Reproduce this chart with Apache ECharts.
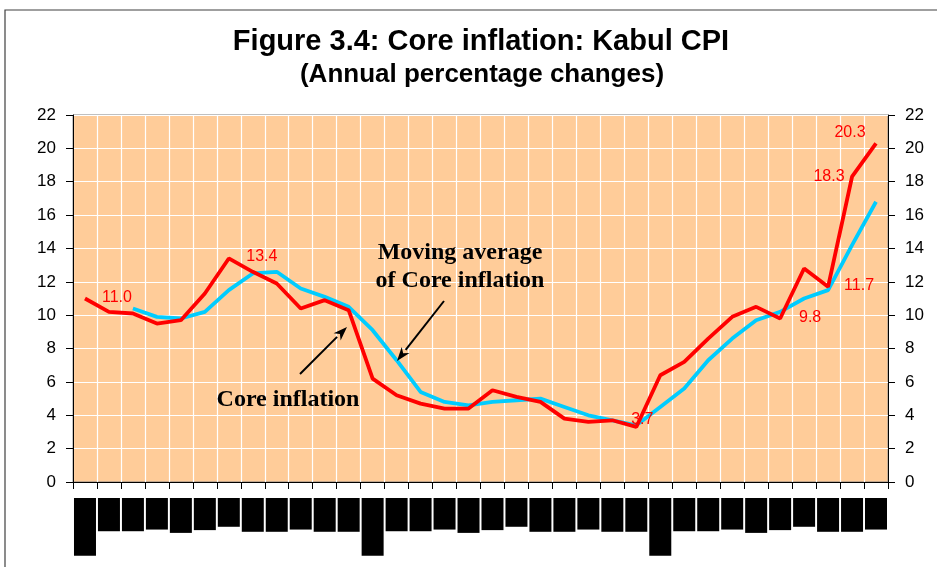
<!DOCTYPE html>
<html>
<head>
<meta charset="utf-8">
<script src="https://cdn.jsdelivr.net/npm/echarts@6/dist/echarts.min.js"></script>
<style>
  html, body { margin: 0; padding: 0; background: #fff; }
  #main { width: 937px; height: 567px; }
</style>
</head>
<body>
<div id="main"></div>
<script>
  // months on the x axis
  const months = [
    'Jan-2005', 'Feb-2005', 'Mar-2005', 'Apr-2005', 'May-2005', 'Jun-2005',
    'Jul-2005', 'Aug-2005', 'Sep-2005', 'Oct-2005', 'Nov-2005', 'Dec-2005',
    'Jan-2006', 'Feb-2006', 'Mar-2006', 'Apr-2006', 'May-2006', 'Jun-2006',
    'Jul-2006', 'Aug-2006', 'Sep-2006', 'Oct-2006', 'Nov-2006', 'Dec-2006',
    'Jan-2007', 'Feb-2007', 'Mar-2007', 'Apr-2007', 'May-2007', 'Jun-2007',
    'Jul-2007', 'Aug-2007', 'Sep-2007', 'Oct-2007'
  ]
  // core inflation, %
  const coreInflation = [
    11.0, 10.2, 10.1, 9.5, 9.7, 11.3, 13.4, 12.6, 11.9, 10.4, 10.9, 10.3,
    6.2, 5.2, 4.7, 4.4, 4.4, 5.5, 5.1, 4.8, 3.8, 3.6, 3.7, 3.3,
    6.4, 7.2, 8.6, 9.9, 10.5, 9.8, 12.8, 11.7, 18.3, 20.3
  ]
  // moving average of core inflation, %
  const movingAverage = [
    null, null, 10.4, 9.9, 9.8, 10.2, 11.5, 12.5, 12.6, 11.6, 11.1, 10.5,
    9.1, 7.3, 5.4, 4.8, 4.6, 4.8, 4.9, 5.0, 4.5, 4.0, 3.7, 3.4,
    4.5, 5.6, 7.3, 8.6, 9.7, 10.2, 11.0, 11.5, 14.2, 16.8
  ]
  const yTicks = ['0', '2', '4', '6', '8', '10', '12', '14', '16', '18', '20', '22']

  // where the red value labels sit, relative to their point
  const labelOffset = {
    0: [32, -1], 6: [33, -2], 22: [30, -1], 29: [30, -1],
    31: [31, -1], 32: [-23, 0], 33: [-26, -11]
  }

  const red = '#FF0000'
  const blue = '#00CCFF'
  const sans = 'Liberation Sans, Arial, sans-serif'
  const serif = 'Liberation Serif, Times New Roman, serif'

  // small arrow: line + filled head
  function arrow(x1, y1, x2, y2) {
    const dx = x2 - x1, dy = y2 - y1
    const len = Math.sqrt(dx * dx + dy * dy)
    const ux = dx / len, uy = dy / len
    const bx = x2 - ux * 14, by = y2 - uy * 14
    return [
      { type: 'line', shape: { x1: x1, y1: y1, x2: bx, y2: by }, style: { stroke: '#000', lineWidth: 2 }, z: 100 },
      {
        type: 'polygon',
        shape: { points: [[x2, y2], [bx - uy * 5, by + ux * 5], [bx + ux * 4, by + uy * 4], [bx + uy * 5, by - ux * 5]] },
        style: { fill: '#000' },
        z: 100
      }
    ]
  }

  const yAxisBase = {
    type: 'value',
    min: 0,
    max: 22,
    interval: 2,
    axisLine: { show: true, lineStyle: { color: '#000', width: 1 } },
    axisTick: { show: true, length: 7, lineStyle: { color: '#000' } },
    axisLabel: {
      color: '#000',
      fontSize: 17,
      fontFamily: sans,
      margin: 17,
      formatter: (v) => yTicks[Math.round(v / 2)]
    }
  }

  const chart = echarts.init(document.getElementById('main'), null, { renderer: 'canvas' })
  chart.setOption({
    animation: false,
    backgroundColor: '#fff',
    grid: {
      left: 73, right: 49, top: 115, bottom: 85,
      show: true,
      backgroundColor: '#FFCC99',
      borderColor: '#808080',
      borderWidth: 1,
      containLabel: false,
      outerBoundsMode: 'none'
    },
    xAxis: {
      type: 'category',
      data: months,
      boundaryGap: true,
      axisLine: { lineStyle: { color: '#000', width: 1 } },
      axisTick: { show: true, interval: 0, length: 7, lineStyle: { color: '#000' } },
      splitLine: { show: true, interval: 0, lineStyle: { color: '#fff', width: 1.2 } },
      axisLabel: {
        interval: 0,
        rotate: 90,
        margin: 16,
        fontSize: 10,
        fontFamily: sans,
        color: '#000',
        backgroundColor: '#000',
        lineHeight: 22,
        padding: [0, 8, 0, 8],
        hideOverlap: false,
        formatter: (v) => v.startsWith('Jan') ? v : v.slice(0, 3)
      }
    },
    yAxis: [
      Object.assign({}, yAxisBase, {
        position: 'left',
        splitLine: { show: true, lineStyle: { color: '#fff', width: 1.2 } }
      }),
      Object.assign({}, yAxisBase, {
        position: 'right',
        splitLine: { show: false }
      })
    ],
    series: [
      {
        name: 'Moving average of Core inflation',
        type: 'line',
        data: movingAverage,
        showSymbol: false,
        symbol: 'none',
        lineStyle: { color: blue, width: 3.8 },
        z: 3,
        silent: true
      },
      {
        name: 'Core inflation',
        type: 'line',
        data: coreInflation.map((v, i) => labelOffset[i]
          ? { value: v, label: { show: true, offset: labelOffset[i] } }
          : v),
        symbol: 'circle',
        symbolSize: 1,
        showSymbol: true,
        itemStyle: { color: 'rgba(0,0,0,0)' },
        lineStyle: { color: red, width: 3.8 },
        label: {
          show: false,
          position: 'inside',
          color: red,
          fontSize: 16,
          fontFamily: sans,
          formatter: (p) => p.value.toFixed(1)
        },
        z: 4,
        silent: true
      }
    ],
    graphic: [
      // outer frame
      { type: 'rect', shape: { x: 5, y: 10, width: 1000, height: 1000 }, style: { fill: 'none', stroke: '#404040', lineWidth: 1.2 }, z: 0 },
      {
        type: 'text',
        style: { text: 'Figure 3.4: Core inflation: Kabul CPI', x: 481, y: 42, align: 'center', verticalAlign: 'middle', font: 'bold 29px ' + sans, fill: '#000' },
        z: 100
      },
      {
        type: 'text',
        style: { text: '(Annual percentage changes)', x: 482, y: 75, align: 'center', verticalAlign: 'middle', font: 'bold 26px ' + sans, fill: '#000' },
        z: 100
      },
      {
        type: 'text',
        style: { text: 'Moving average\nof Core inflation', x: 460, y: 267, align: 'center', verticalAlign: 'middle', lineHeight: 28, font: 'bold 24px ' + serif, fill: '#000' },
        z: 100
      },
      {
        type: 'text',
        style: { text: 'Core inflation', x: 288, y: 400, align: 'center', verticalAlign: 'middle', font: 'bold 24px ' + serif, fill: '#000' },
        z: 100
      }
    ].concat(arrow(300, 374, 347, 327), arrow(444, 301, 397, 361))
  })
</script>
</body>
</html>
